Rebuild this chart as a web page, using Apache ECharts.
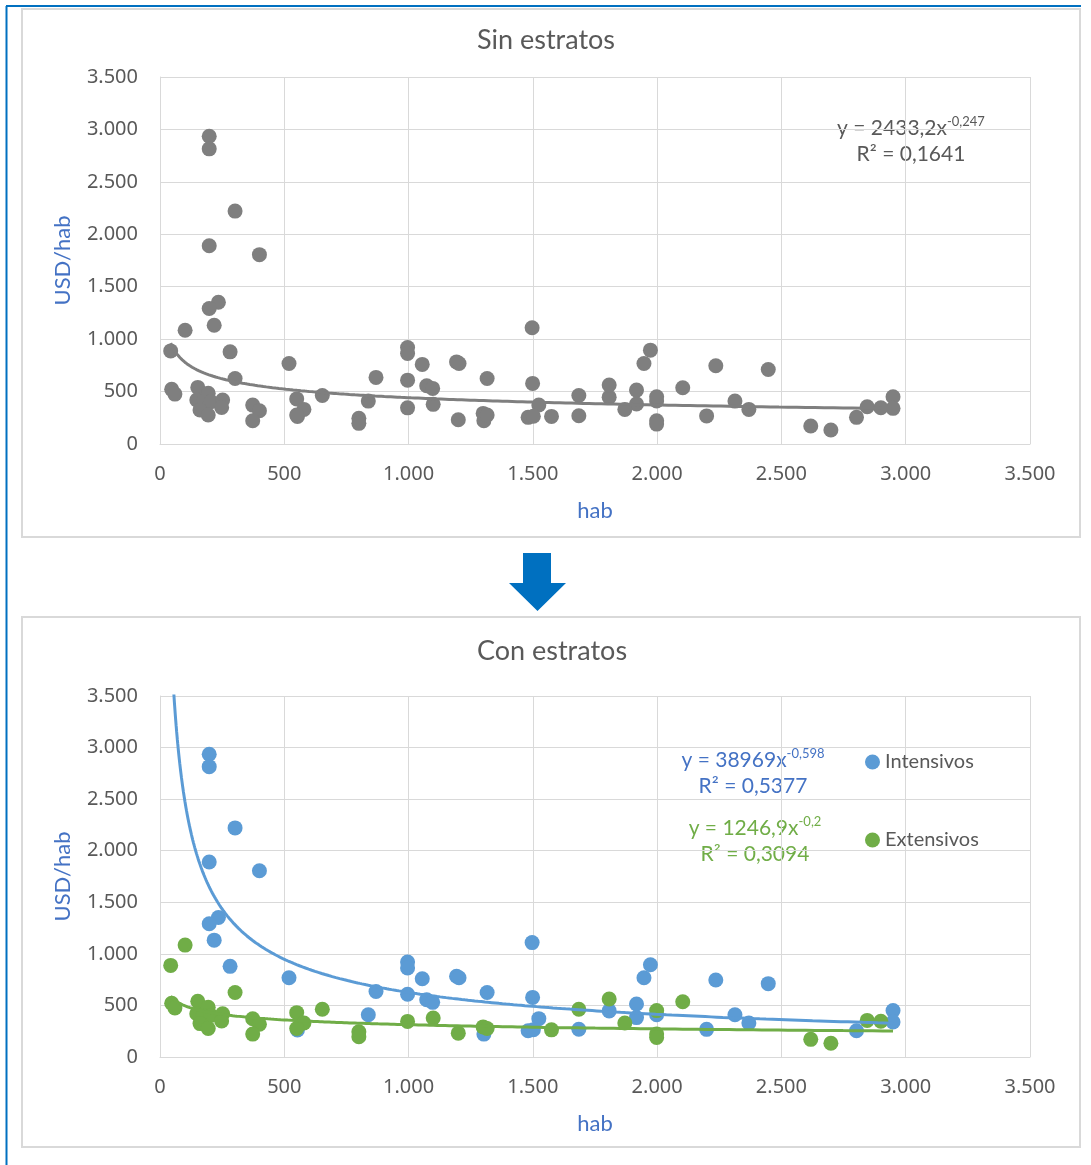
<!DOCTYPE html>
<html>
<head>
<meta charset="utf-8">
<script src="https://cdn.jsdelivr.net/npm/echarts@6/dist/echarts.min.js"></script>
<style>
  html, body { margin: 0; padding: 0; background: #ffffff; }
  #chart { width: 1091px; height: 1165px; }
</style>
</head>
<body>
<div id="chart"></div>
<script>
// Gasto por habitante (USD/hab) frente a población (hab)
const intensivos = [
  [198, 2935], [198, 2815], [302, 2221], [198, 1891], [400, 1806], [235, 1352], [198, 1292], [218, 1133],
  [282, 879], [519, 768], [553, 262], [838, 409], [869, 635], [996, 920], [996, 863], [996, 609],
  [1055, 759], [1073, 555], [1097, 530], [1193, 783], [1203, 768], [1303, 222], [1316, 625],
  [1497, 1109], [1499, 578], [1524, 372], [1481, 254], [1502, 265], [1685, 269], [1807, 447],
  [1917, 514], [1917, 382], [1947, 768], [1973, 895], [1998, 410], [2199, 268], [2236, 746],
  [2313, 409], [2369, 330], [2447, 711], [2802, 254], [2949, 450], [2949, 340]
];
const extensivos = [
  [43, 888], [47, 521], [60, 476], [101, 1085], [152, 540], [148, 419], [194, 483], [174, 403], [205, 403],
  [161, 324], [194, 276], [252, 419], [248, 349], [302, 625], [373, 371], [400, 317], [373, 222],
  [550, 430], [579, 330], [550, 276], [653, 463], [800, 245], [800, 197], [996, 345], [1099, 378],
  [1200, 231], [1300, 292], [1316, 276], [1575, 263], [1685, 463], [1807, 562], [1870, 330],
  [1998, 450], [1998, 222], [1998, 190], [2103, 536], [2618, 171], [2699, 133], [2845, 355], [2900, 346]
];
const todos = intensivos.concat(extensivos);

// Ajustes potenciales y = a·x^b y su R²
const trendTodos = [2433.2, -0.247];
const trendIntensivos = [38969, -0.598];
const trendExtensivos = [1246.9, -0.2];
const r2Todos = 0.1641;
const r2Intensivos = 0.5377;
const r2Extensivos = 0.3094;

// Escalas de los ejes
const xRange = [0, 3500, 500];
const yRange = [0, 3500, 500];

const GRAY = '#7f7f7f', BLUE = '#5B9BD5', GREEN = '#70AD47';
const TEXT = '#595959', AXIS_BLUE = '#4472C4', GRID = '#d9d9d9';
const TICK_FONT = '"Noto Sans", "Open Sans", sans-serif';
const LABEL_FONT = 'Lato, "Open Sans", sans-serif';

function miles(v) {
  return String(v).replace(/\B(?=(\d{3})+(?!\d))/g, '.');
}
function coma(v) {
  return String(v).replace('.', ',');
}

const xs = todos.map(p => p[0]);
const xMinData = Math.min.apply(null, xs);
const xMaxData = Math.max.apply(null, xs);

function curvaPotencial(coef, n) {
  const pts = [];
  for (let i = 0; i <= n; i++) {
    const x = xMinData * Math.pow(xMaxData / xMinData, i / n);
    pts.push([x, coef[0] * Math.pow(x, coef[1])]);
  }
  return pts;
}

function ejeX(idx) {
  return {
    gridIndex: idx, type: 'value', min: xRange[0], max: xRange[1], interval: xRange[2],
    axisLine: { show: true, lineStyle: { color: GRID, width: 1 } },
    axisTick: { show: false },
    splitLine: { show: true, lineStyle: { color: GRID, width: 1 } },
    axisLabel: { color: TEXT, fontSize: 20, fontFamily: TICK_FONT, margin: 20, formatter: miles },
    name: 'hab', nameLocation: 'middle', nameGap: 56,
    nameTextStyle: { color: AXIS_BLUE, fontSize: 22, fontFamily: LABEL_FONT }
  };
}
function ejeY(idx) {
  return {
    gridIndex: idx, type: 'value', min: yRange[0], max: yRange[1], interval: yRange[2],
    axisLine: { show: true, lineStyle: { color: GRID, width: 1 } },
    axisTick: { show: false },
    splitLine: { show: true, lineStyle: { color: GRID, width: 1 } },
    axisLabel: { color: TEXT, fontSize: 20, fontFamily: TICK_FONT, margin: 22, formatter: miles },
    name: 'USD/hab', nameLocation: 'middle', nameGap: 86,
    nameTextStyle: { color: AXIS_BLUE, fontSize: 22, fontFamily: LABEL_FONT }
  };
}

function ecuacion(coef, r2, color, x, y) {
  return {
    type: 'text', x: x, y: y, silent: true,
    style: {
      text: '{m|y = ' + coma(coef[0]) + 'x}{s|' + coma(coef[1]) + '}\n{m|R² = ' + coma(r2) + '}',
      align: 'center', verticalAlign: 'middle',
      fill: color, fontFamily: LABEL_FONT,
      rich: {
        m: { fontSize: 21, lineHeight: 26, fill: color, fontFamily: LABEL_FONT },
        s: { fontSize: 13, lineHeight: 13, fill: color, fontFamily: LABEL_FONT, verticalAlign: 'top' }
      }
    }
  };
}

const chart = echarts.init(document.getElementById('chart'), null, { renderer: 'canvas' });

chart.setOption({
  animation: false,
  backgroundColor: '#ffffff',
  grid: [
    { left: 160, top: 77, width: 870, height: 367 },
    { left: 160, top: 696, width: 870, height: 361 }
  ],
  xAxis: [ejeX(0), ejeX(1)],
  yAxis: [ejeY(0), ejeY(1)],
  legend: {
    data: ['Intensivos', 'Extensivos'],
    orient: 'vertical', left: 860, top: 747,
    icon: 'circle', itemWidth: 15, itemHeight: 15, itemGap: 58,
    textStyle: { color: TEXT, fontSize: 20, fontFamily: LABEL_FONT }
  },
  series: [
    {
      name: 'Todos', type: 'scatter', xAxisIndex: 0, yAxisIndex: 0,
      data: todos, symbolSize: 15, itemStyle: { color: GRAY, opacity: 1 }
    },
    {
      name: 'Ajuste todos', type: 'line', xAxisIndex: 0, yAxisIndex: 0,
      data: curvaPotencial(trendTodos, 300), showSymbol: false, silent: true, clip: true,
      lineStyle: { color: GRAY, width: 3 }
    },
    {
      name: 'Intensivos', type: 'scatter', xAxisIndex: 1, yAxisIndex: 1,
      data: intensivos, symbolSize: 15, itemStyle: { color: BLUE, opacity: 1 }
    },
    {
      name: 'Extensivos', type: 'scatter', xAxisIndex: 1, yAxisIndex: 1,
      data: extensivos, symbolSize: 15, itemStyle: { color: GREEN, opacity: 1 }
    },
    {
      name: 'Ajuste intensivos', type: 'line', xAxisIndex: 1, yAxisIndex: 1,
      data: curvaPotencial(trendIntensivos, 400), showSymbol: false, silent: true, clip: true,
      lineStyle: { color: BLUE, width: 3 }
    },
    {
      name: 'Ajuste extensivos', type: 'line', xAxisIndex: 1, yAxisIndex: 1,
      data: curvaPotencial(trendExtensivos, 300), showSymbol: false, silent: true, clip: true,
      lineStyle: { color: GREEN, width: 3 }
    }
  ],
  graphic: [
    // marco azul exterior
    { type: 'line', silent: true, shape: { x1: 6.5, y1: 6, x2: 6.5, y2: 1165 }, style: { stroke: '#0070C0', lineWidth: 2 } },
    { type: 'line', silent: true, shape: { x1: 6, y1: 6, x2: 1081, y2: 6 }, style: { stroke: '#0070C0', lineWidth: 2 } },
    // recuadros de cada gráfico
    { type: 'rect', silent: true, shape: { x: 22, y: 9, width: 1058, height: 528 }, style: { fill: 'none', stroke: GRID, lineWidth: 2 } },
    { type: 'rect', silent: true, shape: { x: 22, y: 617, width: 1058, height: 530 }, style: { fill: 'none', stroke: GRID, lineWidth: 2 } },
    // flecha entre ambos
    {
      type: 'polygon', silent: true,
      shape: { points: [[523, 553], [551, 553], [551, 583], [566, 583], [537.5, 611], [509, 583], [523, 583]] },
      style: { fill: '#0070C0' }
    },
    // títulos
    { type: 'text', x: 546, y: 40, silent: true, style: { text: 'Sin estratos', align: 'center', verticalAlign: 'middle', fontSize: 27, fontFamily: LABEL_FONT, fill: TEXT } },
    { type: 'text', x: 552, y: 651, silent: true, style: { text: 'Con estratos', align: 'center', verticalAlign: 'middle', fontSize: 27, fontFamily: LABEL_FONT, fill: TEXT } },
    // ecuaciones de ajuste
    ecuacion(trendTodos, r2Todos, TEXT, 911, 141),
    ecuacion(trendIntensivos, r2Intensivos, AXIS_BLUE, 753, 773),
    ecuacion(trendExtensivos, r2Extensivos, GREEN, 755, 841)
  ]
});
</script>
</body>
</html>
